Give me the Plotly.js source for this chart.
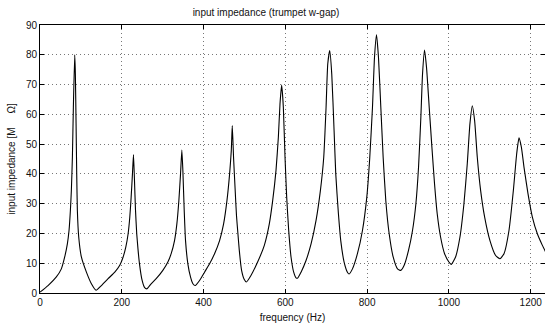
<!DOCTYPE html>
<html>
<head>
<meta charset="utf-8">
<script src="https://cdn.plot.ly/plotly-3.0.1.min.js"></script>
<style>html,body{margin:0;padding:0;background:#fff;}#chart{width:545px;height:329px;}</style>
</head>
<body>
<div id="chart"></div>
<script>
const chartTitle = "input impedance (trumpet w-gap)";
const xTitle = "frequency (Hz)";
const yTitle = "input impedance [M\u00A0\u00A0\u00A0\u00A0\u00A0Ω]";
const xTicks = [0, 200, 400, 600, 800, 1000, 1200];
const yTicks = [0, 10, 20, 30, 40, 50, 60, 70, 80, 90];

const frequency = [
  0, 19.6, 40, 52.2, 60.4, 66.9, 71, 74.3, 76.7, 79.2, 81.6, 84.9,
  86.5, 88.2, 89.8, 91.4, 94.7, 101.2, 113.5, 125.7, 137.1,
  150.2, 166.5, 182.9, 195.1, 203.3, 209.8, 215.5, 219.6, 222.9, 226.1, 228.6,
  231, 233.5, 236.5, 239.5, 243.3, 249.8, 255.5, 261.2,
  271.8, 284.1, 300.4, 312.7, 320.8, 329, 334.7, 339.6, 343.7, 346.9,
  349.4, 352.7, 355.9, 361.6, 368.2, 373.9, 379.6,
  390.2, 402.4, 414.7, 426.9, 439.2, 449, 457.2, 463.7, 467.8, 470.2,
  473.5, 477.5, 480.5, 484, 487.4, 493, 499.6, 504.5,
  515.9, 532.2, 548.6, 560.8, 569, 577.1, 582.9, 586.9, 591,
  595.1, 599.2, 603.3, 608.2, 613.9, 620.4, 626.1, 630.2,
  638.4, 650.6, 662.9, 675.1, 685.7, 693.9, 699.6, 703.7, 708.6,
  713.5, 719.2, 723.3, 729.8, 735.5, 743.7, 751.8, 755.9,
  764.1, 776.3, 788.6, 799.2, 806.5, 813.1, 818, 822.9,
  827.8, 833.5, 839.2, 845.7, 853.9, 863.7, 874.3, 882.5,
  890.6, 901.2, 911, 919.2, 925.7, 931.4, 935.5, 940.4,
  945.3, 951.8, 958.4, 964.9, 971.4, 979.6, 989.4, 1000, 1005.7,
  1016.3, 1027, 1036.7, 1044.9, 1051.4, 1057.2,
  1062.9, 1069.4, 1077.6, 1087.4, 1100.4, 1114.3, 1124.9,
  1134.7, 1146.9, 1157.6, 1165.7, 1171.4,
  1177.2, 1183.7, 1193.5, 1204.1, 1216.3, 1228.6, 1236.7
];
const impedance = [
  0.3, 2.5, 5.4, 8.1, 12.1, 16.5, 21, 27.7, 34.4, 45.6, 62.4, 80.0,
  73.5, 56.8, 40, 27.7, 18.8, 12.1, 7.0, 3.1, 0.9,
  2.5, 4.8, 7.0, 9.3, 12.1, 15.4, 19.9, 25.5, 32.2, 40, 46.5,
  38, 28, 20, 15, 9.8, 4.2, 1.9, 1.4,
  3.1, 4.8, 7.6, 10.4, 13.2, 17.6, 23.2, 31, 40, 48.0,
  41.1, 27.7, 17.6, 9.8, 5.3, 3.1, 2.5,
  4.2, 7.0, 9.8, 13.2, 17.6, 23.2, 31, 40, 47.8, 56.2,
  45, 34, 26, 20, 14.3, 7.6, 4.5, 3.7,
  5.9, 10.4, 16, 23.2, 31, 41.1, 52.3, 63.5, 69.8,
  62.4, 45.6, 32.2, 21, 12.1, 7, 5.1, 5.0,
  7, 10.9, 16.5, 24.4, 34.4, 45.6, 62.4, 76.9, 81.4,
  73.5, 54.5, 40, 26.6, 17.6, 10.4, 7, 6.4,
  8.1, 13.2, 21, 32.2, 45.6, 62.4, 79.1, 86.7,
  79.1, 62.4, 45.6, 31, 19.9, 12.1, 8.1, 7.6,
  9.3, 14.3, 21, 29.9, 42.2, 59, 73.5, 81.6,
  75.7, 62.4, 49, 36.6, 26.6, 18.8, 13.2, 10.4, 9.6,
  12.1, 18.8, 29.9, 43.4, 56.8, 62.9,
  57.9, 45.6, 34.4, 25.5, 17.6, 12.6, 11.5,
  13.2, 21, 34.4, 46.7, 52.1,
  49, 42.2, 33.3, 25.5, 19.9, 16, 13.7
];

const font = {family: "Liberation Sans, Arial, sans-serif", size: 10, color: "#111"};
const gridDash = "1px,3px";

const trace = {
  x: frequency,
  y: impedance,
  type: "scatter",
  mode: "lines",
  line: {color: "#000", width: 1.1, shape: "spline", smoothing: 0.5},
  hoverinfo: "x+y"
};

const layout = {
  width: 545,
  height: 329,
  margin: {l: 40, r: 0, t: 25, b: 36},
  paper_bgcolor: "#fff",
  plot_bgcolor: "#fff",
  font: font,
  showlegend: false,
  title: {
    text: chartTitle,
    font: {family: font.family, size: 10, color: "#111"},
    xref: "container", x: 266 / 545, xanchor: "center",
    yref: "container", y: 1 - 12 / 329, yanchor: "middle"
  },
  xaxis: {
    title: {text: xTitle, font: {family: font.family, size: 10, color: "#111"}, standoff: 6},
    range: [0, 1235],
    tickmode: "array",
    tickvals: xTicks,
    ticktext: xTicks.map(String),
    ticks: "inside",
    ticklen: 4,
    tickcolor: "#000",
    showline: true,
    linecolor: "#000",
    linewidth: 1,
    mirror: "ticks",
    showgrid: true,
    gridcolor: "#777",
    gridwidth: 1,
    griddash: gridDash,
    zeroline: false,
    automargin: false
  },
  yaxis: {
    title: {text: yTitle, font: {family: font.family, size: 10, color: "#111"}, standoff: 8},
    range: [0, 90],
    tickmode: "array",
    tickvals: yTicks,
    ticktext: yTicks.map(String),
    ticks: "inside",
    ticklen: 4,
    tickcolor: "#000",
    showline: true,
    linecolor: "#000",
    linewidth: 1,
    mirror: "ticks",
    showgrid: true,
    gridcolor: "#777",
    gridwidth: 1,
    griddash: gridDash,
    zeroline: false,
    automargin: false
  }
};

Plotly.newPlot("chart", [trace], layout, {displayModeBar: false, staticPlot: true});
</script>
</body>
</html>
